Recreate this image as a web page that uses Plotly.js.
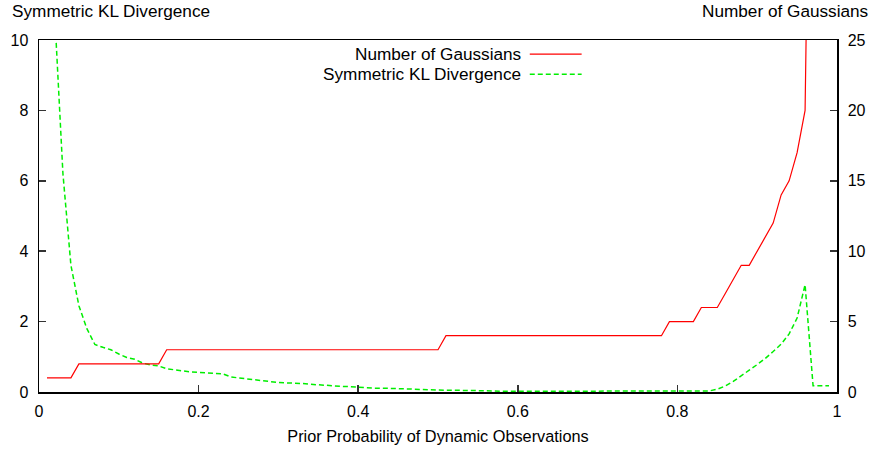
<!DOCTYPE html>
<html>
<head>
<meta charset="utf-8">
<script src="https://cdn.plot.ly/plotly-3.0.1.min.js"></script>
<style>html,body{margin:0;padding:0;background:#fff;}#chart{width:875px;height:452px;}</style>
</head>
<body>
<div id="chart"></div>
<script>
// Prior probability of dynamic observations (x)
const priorProb = [0.01,0.02,0.03,0.04,0.05,0.06,0.07,0.08,0.09,0.10,
  0.11,0.12,0.13,0.14,0.15,0.16,0.17,0.18,0.19,0.20,
  0.21,0.22,0.23,0.24,0.25,0.26,0.27,0.28,0.29,0.30,
  0.31,0.32,0.33,0.34,0.35,0.36,0.37,0.38,0.39,0.40,
  0.41,0.42,0.43,0.44,0.45,0.46,0.47,0.48,0.49,0.50,
  0.51,0.52,0.53,0.54,0.55,0.56,0.57,0.58,0.59,0.60,
  0.61,0.62,0.63,0.64,0.65,0.66,0.67,0.68,0.69,0.70,
  0.71,0.72,0.73,0.74,0.75,0.76,0.77,0.78,0.79,0.80,
  0.81,0.82,0.83,0.84,0.85,0.86,0.87,0.88,0.89,0.90,
  0.91,0.92,0.93,0.94,0.95,0.96,0.97,0.98,0.99];

// Number of Gaussians (right axis)
const numGaussians = [1,1,1,1,2,2,2,2,2,2,
  2,2,2,2,2,3,3,3,3,3,
  3,3,3,3,3,3,3,3,3,3,
  3,3,3,3,3,3,3,3,3,3,
  3,3,3,3,3,3,3,3,3,3,
  4,4,4,4,4,4,4,4,4,4,
  4,4,4,4,4,4,4,4,4,4,
  4,4,4,4,4,4,4,4,5,5,
  5,5,6,6,6,7,8,9,9,10,
  11,12,14,15,17,20,60,80,100];

// Symmetric KL divergence (left axis)
const symKL = [null,10.6,6.2,3.6,2.45,1.8,1.35,1.27,1.2,1.08,
  0.98,0.93,0.82,0.77,0.74,0.66,0.62,0.6,0.57,0.55,
  0.55,0.53,0.52,0.43,0.4,0.37,0.35,0.32,0.29,0.27,
  0.26,0.26,0.24,0.22,0.2,0.19,0.18,0.16,0.15,0.13,
  0.12,0.11,0.11,0.1,0.1,0.1,0.09,0.08,0.07,0.06,
  0.05,0.05,0.05,0.05,0.05,0.04,0.03,0.02,0.02,0.02,
  0.02,0.02,0.02,0.02,0.02,0.02,0.02,0.02,0.02,0.02,
  0.01,0.01,0.01,0.01,0.01,0.01,0.01,0.01,0.01,0.01,
  0.02,0.02,0.02,0.03,0.08,0.17,0.3,0.45,0.62,0.78,
  0.95,1.15,1.36,1.65,2.1,3.05,0.18,0.18,0.18];

const seriesNames = ["Number of Gaussians", "Symmetric KL Divergence"];
const xTitle = "Prior Probability of Dynamic Observations";
const leftTitle = "Symmetric KL Divergence";
const rightTitle = "Number of Gaussians";

const FONT = '"Liberation Sans", Arial, Helvetica, sans-serif';
const RED = '#ff0000', GREEN = '#00ee00';
const GREEN_DASH = '5px,3px';

const traces = [
  {x: priorProb, y: numGaussians, yaxis: 'y2', type: 'scatter', mode: 'lines',
   name: seriesNames[0], line: {color: RED, width: 1.2}, showlegend: false},
  {x: priorProb, y: symKL, yaxis: 'y', type: 'scatter', mode: 'lines',
   name: seriesNames[1], line: {color: GREEN, width: 1.5, dash: GREEN_DASH}, showlegend: false}
];

const axisCommon = {
  showgrid: false, zeroline: false, showline: true, linecolor: '#000', linewidth: 1.5,
  ticks: 'inside', ticklen: 7, tickwidth: 1.5, tickcolor: '#333',
  tickfont: {family: FONT, size: 16, color: '#000'}, fixedrange: true
};

const txt = (size) => ({family: FONT, size: size, color: '#000'});

const layout = {
  width: 875, height: 452,
  margin: {l: 39, r: 38, t: 40, b: 60, pad: 0},
  paper_bgcolor: '#fff', plot_bgcolor: '#fff',
  font: txt(16),
  showlegend: false,
  xaxis: Object.assign({}, axisCommon, {
    range: [0, 1], dtick: 0.2, tick0: 0, mirror: true, ticklabelstandoff: 4,
    title: {text: xTitle, font: txt(16.3), standoff: 12}
  }),
  yaxis: Object.assign({}, axisCommon, {
    range: [0, 10], dtick: 2, tick0: 0, mirror: true, ticklabelstandoff: 6
  }),
  yaxis2: Object.assign({}, axisCommon, {
    range: [0, 25], dtick: 5, tick0: 0, overlaying: 'y', side: 'right', ticklabelstandoff: 6
  }),
  annotations: [
    {text: leftTitle, xref: 'paper', yref: 'paper', x: -0.0363, y: 1.082,
     xanchor: 'left', yanchor: 'middle', showarrow: false, font: txt(17.2)},
    {text: rightTitle, xref: 'paper', yref: 'paper', x: 1.0414, y: 1.082,
     xanchor: 'right', yanchor: 'middle', showarrow: false, font: txt(17.2)},
    {text: seriesNames[0], xref: 'paper', yref: 'paper', x: 0.6065, y: 0.960,
     xanchor: 'right', yanchor: 'middle', showarrow: false, font: txt(17.2)},
    {text: seriesNames[1], xref: 'paper', yref: 'paper', x: 0.6065, y: 0.903,
     xanchor: 'right', yanchor: 'middle', showarrow: false, font: txt(17.2)}
  ],
  shapes: [
    {type: 'line', xref: 'paper', yref: 'paper', x0: 0.615, x1: 0.680, y0: 0.960, y1: 0.960,
     line: {color: RED, width: 1.2}},
    {type: 'line', xref: 'paper', yref: 'paper', x0: 0.615, x1: 0.680, y0: 0.903, y1: 0.903,
     line: {color: GREEN, width: 1.5, dash: GREEN_DASH}}
  ]
};

Plotly.newPlot('chart', traces, layout, {displayModeBar: false, staticPlot: true});
</script>
</body>
</html>
